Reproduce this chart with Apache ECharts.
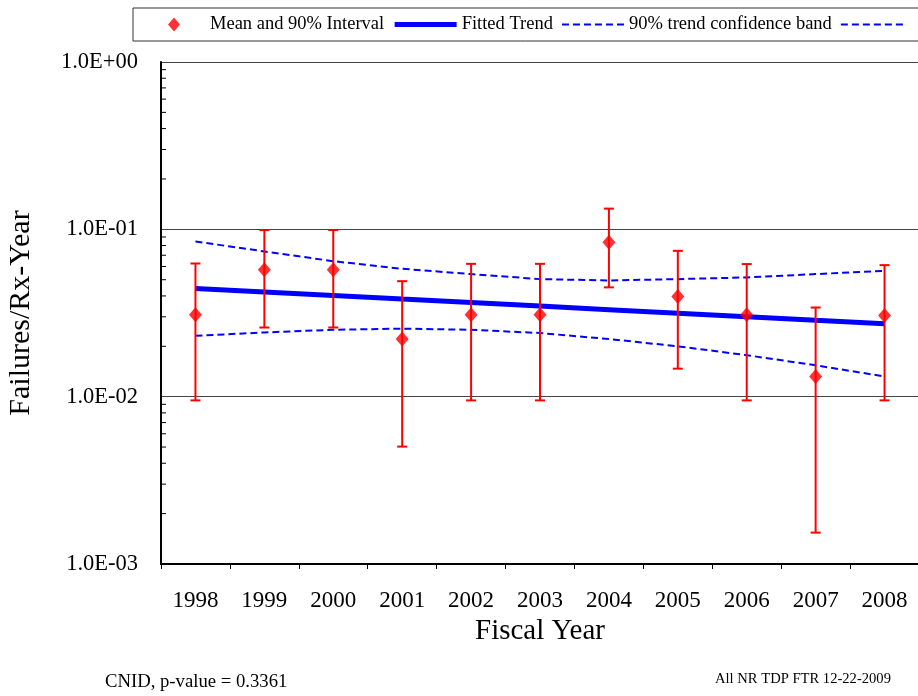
<!DOCTYPE html>
<html>
<head>
<meta charset="utf-8">
<script src="https://cdn.jsdelivr.net/npm/echarts@6/dist/echarts.min.js"></script>
<style>
html,body{margin:0;padding:0;background:#fff;}
#chart{width:918px;height:696px;}
</style>
</head>
<body>
<div id="chart"></div>
<script>
const categories = ['1998','1999','2000','2001','2002','2003','2004','2005','2006','2007','2008'];
const meanValues  = [0.0309,0.0573,0.0573,0.0221,0.0309,0.0309,0.0838,0.0397,0.0309,0.0132,0.0306];
const lowerValues = [0.0095,0.0259,0.0259,0.00503,0.0095,0.0095,0.0450,0.0147,0.0095,0.00154,0.0095];
const upperValues = [0.0625,0.0990,0.0990,0.0490,0.0622,0.0622,0.1330,0.0744,0.0620,0.0341,0.0611];
const trendValues = [0.0443,0.0422,0.0402,0.0383,0.0365,0.0348,0.0331,0.0315,0.0300,0.0286,0.0273];
const bandUpperValues = [0.0846,0.0738,0.0645,0.0581,0.0540,0.0504,0.0495,0.0504,0.0516,0.0540,0.0565];
const bandLowerValues = [0.0231,0.0242,0.0251,0.0255,0.0251,0.0240,0.0221,0.0200,0.0177,0.0154,0.0132];
const yTickValues = [0.001,0.01,0.1,1];
const yTickLabels = ['1.0E-03','1.0E-02','1.0E-01','1.0E+00'];
const minorTickValues = [0.002,0.003,0.004,0.005,0.006,0.007,0.008,0.009,
                         0.02,0.03,0.04,0.05,0.06,0.07,0.08,0.09,
                         0.2,0.3,0.4,0.5,0.6,0.7,0.8,0.9];

const FONT = 'Liberation Serif';
const chart = echarts.init(document.getElementById('chart'));

const errData = categories.map((c,i)=>[i, lowerValues[i], upperValues[i]]);
const hiddenSym = {color:'rgba(0,0,0,0)', opacity:0, borderWidth:0};
const diamondIcon = 'path://M0,7 L0.001,7.001 L0,7.002 Z M31,0 L37,7 L31,14 L25,7 Z M62,7 L61.999,7.001 L62,7.002 Z';

chart.setOption({
  animation:false,
  backgroundColor:'#fff',
  textStyle:{fontFamily:FONT,color:'#000'},
  legend:{
    left:133, top:8, width:800,
    padding:[7,6,7,10],
    borderColor:'#333', borderWidth:1,
    itemWidth:62, itemHeight:14, itemGap:8,
    symbolKeepAspect:true,
    textStyle:{fontFamily:FONT,fontSize:18.5,color:'#000'},
    data:[
      {name:'Mean and 90% Interval', icon:diamondIcon},
      {name:'Fitted Trend', itemStyle:hiddenSym, lineStyle:{width:5}},
      {name:'90% trend confidence band', itemStyle:hiddenSym, lineStyle:{width:2}},
      {name:' ', itemStyle:hiddenSym, lineStyle:{width:2}}
    ]
  },
  grid:{left:161, top:62, width:758, height:502, containLabel:false, outerBoundsMode:'none'},
  xAxis:{
    type:'category', data:categories, boundaryGap:true,
    name:'Fiscal Year', nameLocation:'middle', nameGap:53,
    nameTextStyle:{fontFamily:FONT,fontSize:29,color:'#000'},
    axisLine:{lineStyle:{color:'#000',width:2}},
    axisTick:{show:true,inside:false,length:5,alignWithLabel:false,lineStyle:{color:'#000',width:1}},
    axisLabel:{fontFamily:FONT,fontSize:23,color:'#000',margin:25},
    splitLine:{show:false}
  },
  yAxis:{
    type:'log', logBase:10, min:0.001, max:1,
    name:'Failures/Rx-Year', nameLocation:'middle', nameGap:125, nameRotate:90,
    nameTextStyle:{fontFamily:FONT,fontSize:30,color:'#000'},
    axisLine:{show:true,lineStyle:{color:'#000',width:2}},
    axisTick:{show:false},
    axisLabel:{fontFamily:FONT,fontSize:22.5,color:'#000',margin:23,
      formatter:function(v){
        for(let i=0;i<yTickValues.length;i++){ if(Math.abs(Math.log10(v)-Math.log10(yTickValues[i]))<1e-6) return yTickLabels[i]; }
        return '';
      }},
    splitLine:{show:true,lineStyle:{color:'#444',width:1}}
  },
  series:[
    {
      name:'90% trend confidence band', type:'line', data:bandUpperValues,
      symbol:'none', z:3,
      lineStyle:{color:'#0000FF',width:2,type:[7,4]},
      itemStyle:{color:'#0000FF'}
    },
    {
      name:' ', type:'line', data:bandLowerValues,
      symbol:'none', z:3,
      lineStyle:{color:'#0000FF',width:2,type:[7,4]},
      itemStyle:{color:'#0000FF'}
    },
    {
      name:'Fitted Trend', type:'line', data:trendValues,
      symbol:'none', z:4,
      lineStyle:{color:'#0000FF',width:5},
      itemStyle:{color:'#0000FF'}
    },
    {
      name:'errbars', type:'custom', data:errData, z:5,
      renderItem:function(params, api){
        const x = api.value(0);
        const lo = api.coord([x, api.value(1)]);
        const hi = api.coord([x, api.value(2)]);
        const w = 5;
        const st = {stroke:'#FF0000', lineWidth:2};
        return {type:'group', children:[
          {type:'line', shape:{x1:lo[0],y1:lo[1],x2:hi[0],y2:hi[1]}, style:st},
          {type:'line', shape:{x1:hi[0]-w,y1:hi[1],x2:hi[0]+w,y2:hi[1]}, style:st},
          {type:'line', shape:{x1:lo[0]-w,y1:lo[1],x2:lo[0]+w,y2:lo[1]}, style:st}
        ]};
      }
    },
    {
      name:'Mean and 90% Interval', type:'scatter', data:meanValues,
      symbol:'diamond', symbolSize:[13,15], z:6,
      itemStyle:{color:'#FF0000'}
    },
    {
      name:'minorTicks', type:'custom', data:minorTickValues.map(v=>[0,v]), z:7,
      renderItem:function(params, api){
        const p = api.coord([0, api.value(1)]);
        const x0 = params.coordSys.x;
        return {type:'line', shape:{x1:x0, y1:p[1], x2:x0+5, y2:p[1]}, style:{stroke:'#000', lineWidth:1}};
      }
    }
  ],
  graphic:[
    {type:'text', left:105, top:673, style:{text:'CNID, p-value = 0.3361', font:'18.7px "Liberation Serif"', fill:'#000'}},
    {type:'text', left:715, top:672, style:{text:'All NR TDP FTR 12-22-2009', font:'14.6px "Liberation Serif"', fill:'#000'}}
  ]
});
</script>
</body>
</html>
